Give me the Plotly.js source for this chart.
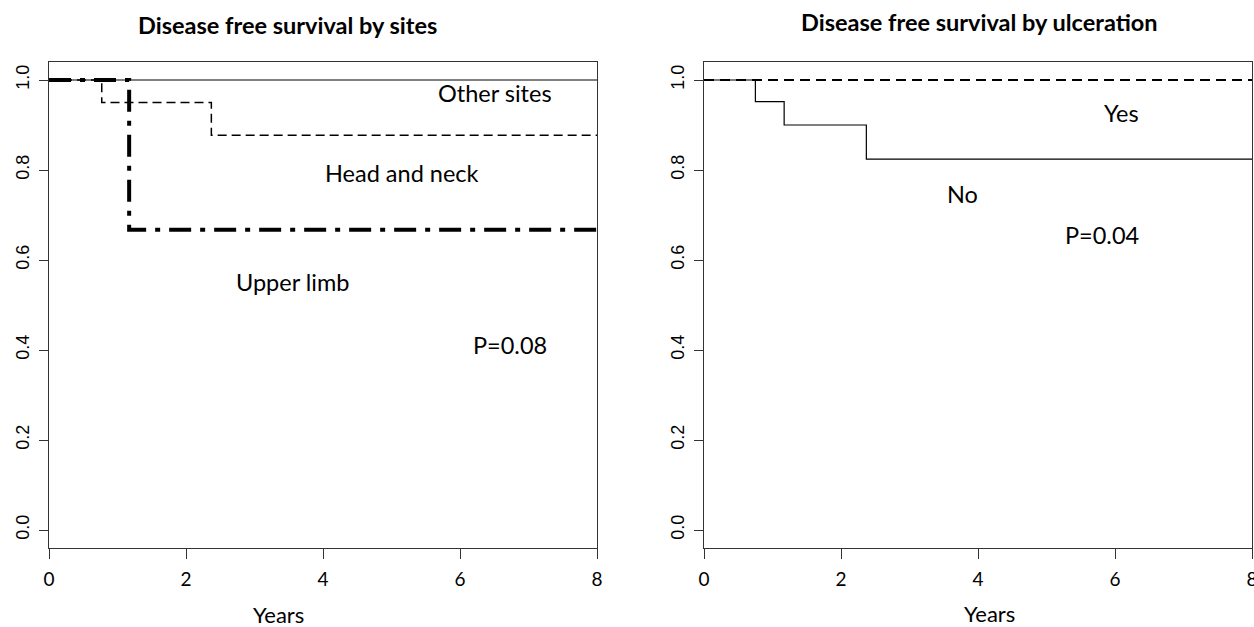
<!DOCTYPE html>
<html>
<head>
<meta charset="utf-8">
<script src="https://cdn.plot.ly/plotly-3.0.1.min.js"></script>
<style>html,body{margin:0;padding:0;background:#fff}#chart{width:1254px;height:627px}</style>
</head>
<body>
<div id="chart"></div>
<script>
// ---- Data ----
// Left panel: Disease free survival by sites
var otherTimes = [0, 8];
var otherSurv  = [1.0, 1.0];
var headNeckTimes = [0, 0.77, 2.37, 8];
var headNeckSurv  = [1.0, 0.95, 0.877, 0.877];
var upperLimbTimes = [0, 1.17, 8];
var upperLimbSurv  = [1.0, 0.667, 0.667];
// Right panel: Disease free survival by ulceration
var yesTimes = [0, 8];
var yesSurv  = [1.0, 1.0];
var noTimes = [0, 0.75, 1.17, 2.37, 8];
var noSurv  = [1.0, 0.952, 0.9, 0.824, 0.824];

var xTickVals = [0, 2, 4, 6, 8];
var yTickVals = [0, 0.2, 0.4, 0.6, 0.8, 1.0];
var yTickText = ["0.0", "0.2", "0.4", "0.6", "0.8", "1.0"];

var titles = ["Disease free survival by sites", "Disease free survival by ulceration"];
var xTitle = "Years";
var leftLabels = ["Other sites", "Head and neck", "Upper limb", "P=0.08"];
var rightLabels = ["Yes", "No", "P=0.04"];

// ---- Traces ----
var traces = [
  {x: otherTimes, y: otherSurv, xaxis: 'x', yaxis: 'y', mode: 'lines', line: {shape: 'hv', color: '#000', width: 1}},
  {x: headNeckTimes, y: headNeckSurv, xaxis: 'x', yaxis: 'y', mode: 'lines', line: {shape: 'hv', color: '#000', width: 1.5, dash: '9px,5px'}},
  {x: upperLimbTimes, y: upperLimbSurv, xaxis: 'x', yaxis: 'y', mode: 'lines', line: {shape: 'hv', color: '#000', width: 4, dash: '22px,9px,5px,9px'}},
  {x: yesTimes, y: yesSurv, xaxis: 'x2', yaxis: 'y2', mode: 'lines', line: {shape: 'hv', color: '#000', width: 2, dash: '10px,6px'}},
  {x: noTimes, y: noSurv, xaxis: 'x2', yaxis: 'y2', mode: 'lines', line: {shape: 'hv', color: '#000', width: 1.2}}
];

var W = 1254, H = 627;
function px(v) { return v / W; }
function py(v) { return 1 - v / H; }

function xAxis(dom, anchor) {
  return {
    domain: dom, anchor: anchor, range: [0, 8], tickvals: xTickVals,
    ticks: 'outside', ticklen: 10, tickwidth: 1, tickcolor: '#333',
    ticklabelstandoff: 4, ticklabeloverflow: 'allow',
    showline: true, mirror: true, linecolor: '#333', linewidth: 1,
    showgrid: false, zeroline: false,
    tickfont: {family: 'Lato, sans-serif', size: 19, color: '#000'}
  };
}
function yAxis(anchor) {
  return {
    domain: [1 - 548 / H, 1 - 62 / H], anchor: anchor, range: [-0.04, 1.04],
    tickvals: yTickVals, ticktext: yTickText, tickangle: -90,
    ticks: 'outside', ticklen: 9, tickwidth: 1, tickcolor: '#333',
    ticklabelstandoff: 3,
    showline: true, mirror: true, linecolor: '#333', linewidth: 1,
    showgrid: false, zeroline: false,
    tickfont: {family: 'Liberation Sans, Arial, sans-serif', size: 18, color: '#000'}
  };
}

var annFont = {family: 'Lato, sans-serif', size: 23.5, color: '#000'};
var annotations = [
  {text: leftLabels[0], x: 6.51, y: 0.971, xref: 'x', yref: 'y'},
  {text: leftLabels[1], x: 5.15, y: 0.793, xref: 'x', yref: 'y'},
  {text: leftLabels[2], x: 3.56, y: 0.551, xref: 'x', yref: 'y'},
  {text: leftLabels[3], x: 6.73, y: 0.411, xref: 'x', yref: 'y'},
  {text: rightLabels[0], x: 6.09, y: 0.927, xref: 'x2', yref: 'y2'},
  {text: rightLabels[1], x: 3.78, y: 0.747, xref: 'x2', yref: 'y2'},
  {text: rightLabels[2], x: 5.81, y: 0.655, xref: 'x2', yref: 'y2'}
].map(function (a) { a.showarrow = false; a.font = annFont; a.xanchor = 'center'; a.yanchor = 'middle'; return a; });

var titleFont = {family: 'Lato, sans-serif', size: 23.5, color: '#000'};
var yearsFont = {family: 'Lato, sans-serif', size: 22, color: '#000'};
annotations.push(
  {text: '<b>' + titles[0] + '</b>', x: px(287), y: py(25), xref: 'paper', yref: 'paper', showarrow: false, xanchor: 'center', yanchor: 'middle', font: titleFont},
  {text: '<b>' + titles[1] + '</b>', x: px(979), y: py(22), xref: 'paper', yref: 'paper', showarrow: false, xanchor: 'center', yanchor: 'middle', font: titleFont},
  {text: xTitle, x: px(278), y: py(614), xref: 'paper', yref: 'paper', showarrow: false, xanchor: 'center', yanchor: 'middle', font: yearsFont},
  {text: xTitle, x: px(989), y: py(613), xref: 'paper', yref: 'paper', showarrow: false, xanchor: 'center', yanchor: 'middle', font: yearsFont}
);

var layout = {
  width: W, height: H,
  margin: {l: 0, r: 0, t: 0, b: 0},
  paper_bgcolor: '#fff', plot_bgcolor: '#fff',
  showlegend: false,
  xaxis: xAxis([px(49), px(597)], 'y'),
  yaxis: yAxis('x'),
  xaxis2: xAxis([px(704), px(1252)], 'y2'),
  yaxis2: yAxis('x2'),
  annotations: annotations
};

Plotly.newPlot('chart', traces, layout, {displayModeBar: false, staticPlot: true});
</script>
</body>
</html>
